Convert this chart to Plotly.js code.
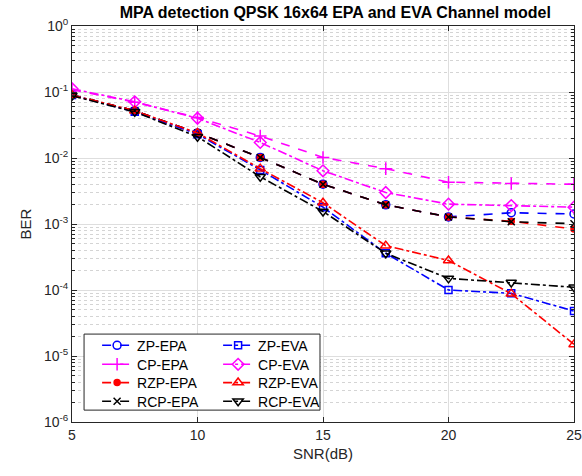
<!DOCTYPE html>
<html>
<head>
<meta charset="utf-8">
<script src="https://cdn.plot.ly/plotly-3.0.1.min.js"></script>
<style>html,body{margin:0;padding:0;background:#fff;}#chart{width:582px;height:476px;}</style>
</head>
<body>
<div id="chart"></div>
<script>
const snr = [5, 7.5, 10, 12.5, 15, 17.5, 20, 22.5, 25];

const zpEPA  = [0.090, 0.052, 0.024, 0.0102, 0.0040, 0.00195, 0.00128, 0.00148, 0.00142];
const cpEPA  = [0.108, 0.070, 0.041, 0.0215, 0.0102, 0.0069, 0.0043, 0.0041, 0.0040];
const rzpEPA = [0.090, 0.052, 0.024, 0.0102, 0.0040, 0.00195, 0.00128, 0.00110, 0.00084];
const rcpEPA = [0.090, 0.052, 0.024, 0.0102, 0.0040, 0.00195, 0.00128, 0.00108, 0.00101];
const zpEVA  = [0.090, 0.050, 0.023, 0.0066, 0.0018, 0.00036, 0.000100, 0.000089, 0.000048];
const cpEVA  = [0.112, 0.071, 0.040, 0.0172, 0.0064, 0.0030, 0.0020, 0.0019, 0.0018];
const rzpEVA = [0.090, 0.052, 0.024, 0.0069, 0.0021, 0.00047, 0.00028, 0.000088, 0.000015];
const rcpEVA = [0.088, 0.050, 0.021, 0.0052, 0.00155, 0.00036, 0.00015, 0.00013, 0.00011];

const xTicks = [5, 10, 15, 20, 25];
const yTickVals = [1, 0.1, 0.01, 0.001, 0.0001, 0.00001, 0.000001];
const yTickText = ['10<sup>0</sup>', '10<sup>-1</sup>', '10<sup>-2</sup>', '10<sup>-3</sup>', '10<sup>-4</sup>', '10<sup>-5</sup>', '10<sup>-6</sup>'];

const FONT = 'Liberation Sans, Arial, sans-serif';

function tr(name, y, color, dash, symbol, legend, msize) {
  return {
    x: snr, y: y, name: name, type: 'scatter', mode: 'lines+markers',
    line: {color: color, dash: dash, width: 1.6},
    marker: {symbol: symbol, size: msize || 8, color: color, line: {color: color, width: 1.5}},
    legend: legend
  };
}

const data = [
  tr('ZP-EPA', zpEPA, '#0000ff', 'dash', 'circle-open', 'legend'),
  tr('CP-EPA', cpEPA, '#ff00ff', 'dash', 'cross-thin-open', 'legend2', 9),
  tr('RZP-EPA', rzpEPA, '#ff0000', 'dash', 'circle', 'legend3', 6),
  tr('RCP-EPA', rcpEPA, '#000000', 'dash', 'x-thin-open', 'legend4', 7),
  tr('ZP-EVA', zpEVA, '#0000ff', 'dashdot', 'square-open', 'legend', 7),
  tr('CP-EVA', cpEVA, '#ff00ff', 'dashdot', 'diamond-open', 'legend2', 9),
  tr('RZP-EVA', rzpEVA, '#ff0000', 'dashdot', 'triangle-up-open', 'legend3', 9),
  tr('RCP-EVA', rcpEVA, '#000000', 'dashdot', 'triangle-down-open', 'legend4', 9)
];

const axisCommon = {
  showline: true, mirror: 'ticks', linecolor: '#262626', linewidth: 1,
  ticks: 'inside', ticklen: 5, tickcolor: '#262626',
  gridcolor: '#dedede', gridwidth: 1, zeroline: false,
  tickfont: {family: FONT, size: 14, color: '#262626'}
};

function leg(y) {
  return {
    orientation: 'h', bgcolor: 'rgba(0,0,0,0)', borderwidth: 0,
    font: {family: FONT, size: 14, color: '#000'},
    x: 0.05, xanchor: 'left', y: y, yanchor: 'middle',
    entrywidth: 76, entrywidthmode: 'pixels', itemwidth: 30, traceorder: 'normal'
  };
}

const layout = {
  width: 582, height: 476,
  margin: {l: 72, r: 8, t: 26, b: 54},
  paper_bgcolor: '#fff', plot_bgcolor: '#fff',
  title: {text: '<b>MPA detection QPSK 16x64 EPA and EVA Channel model</b>',
          font: {family: FONT, size: 16, color: '#000'},
          x: 0.576, xanchor: 'center', y: 0.975, yanchor: 'middle'},
  xaxis: Object.assign({}, axisCommon, {
    range: [5, 25], tickvals: xTicks, ticktext: xTicks.map(String),
    title: {text: 'SNR(dB)', font: {family: FONT, size: 15, color: '#262626'}, standoff: 6}
  }),
  yaxis: Object.assign({}, axisCommon, {
    type: 'log', range: [-6, 0], tickvals: yTickVals, ticktext: yTickText,
    minor: {dtick: 'D1', showgrid: true, griddash: 'dot', gridcolor: '#d4d4d4', ticks: 'inside', ticklen: 3, tickcolor: '#262626'},
    title: {text: 'BER', font: {family: FONT, size: 15, color: '#262626'}, standoff: 8}
  }),
  legend: leg(0.1927),
  legend2: leg(0.1447),
  legend3: leg(0.0985),
  legend4: leg(0.0513),
  shapes: [{type: 'rect', xref: 'paper', yref: 'paper', x0: 0.024, x1: 0.494, y0: 0.030, y1: 0.222,
            fillcolor: '#ffffff', line: {color: '#262626', width: 1}, layer: 'above'}],
  showlegend: true
};

Plotly.newPlot('chart', data, layout, {displayModeBar: false, staticPlot: true});
</script>
</body>
</html>
